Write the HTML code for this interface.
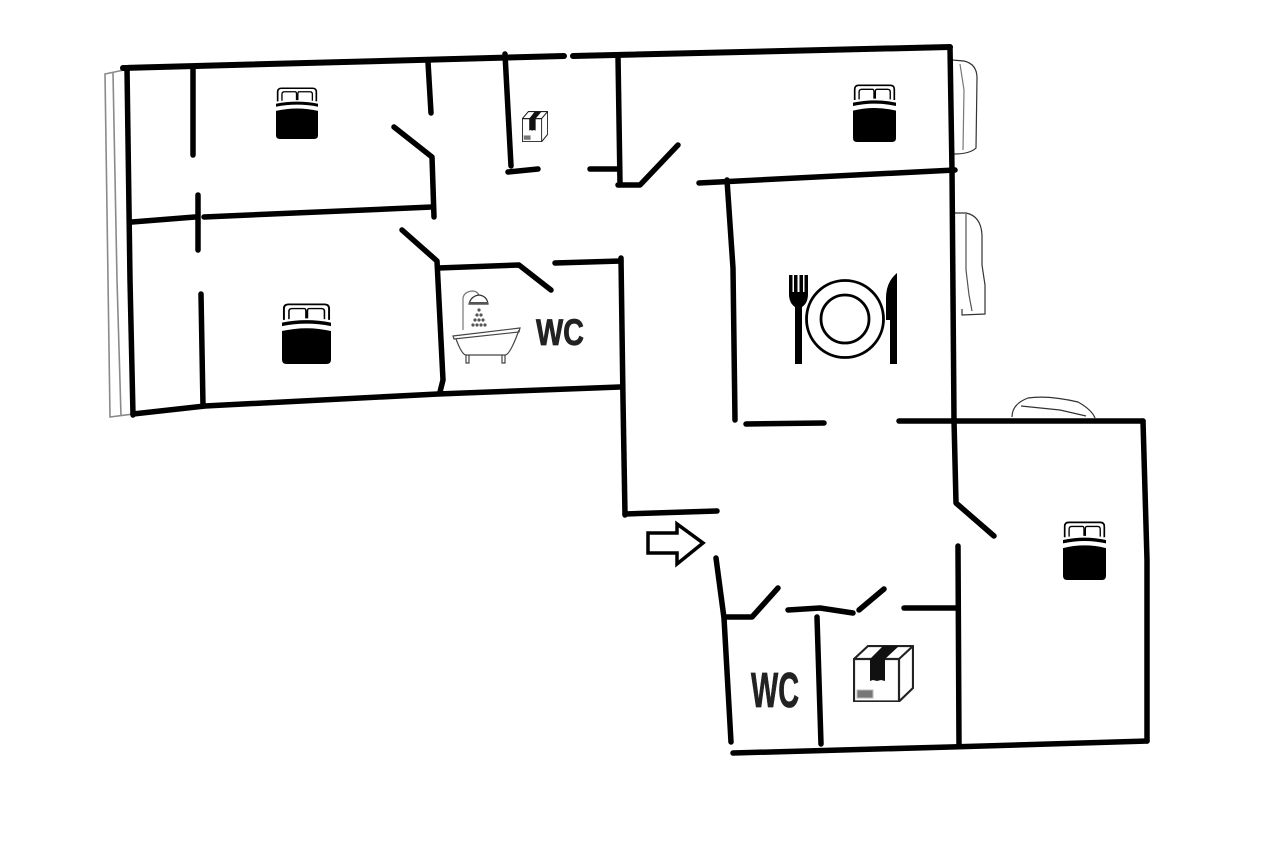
<!DOCTYPE html>
<html>
<head>
<meta charset="utf-8">
<style>
html,body{margin:0;padding:0;background:#fff;}
svg{display:block;}
</style>
</head>
<body>
<svg width="1280" height="857" viewBox="0 0 1280 857" xmlns="http://www.w3.org/2000/svg">
<defs>
<symbol id="bed" viewBox="0 0 127 174" preserveAspectRatio="none">
  <path d="M5 48V16Q5 4 17 4H110Q122 4 122 16V48" fill="none" stroke="#000" stroke-width="5"/>
  <path d="M18 46V24Q18 16 26 16H58Q62 16 62 24V44M66 44V24Q66 16 70 16H102Q110 16 110 24V46" fill="none" stroke="#000" stroke-width="4"/>
  <path d="M0 56Q64 42 127 56V66Q64 52 0 66Z" fill="#000"/>
  <path d="M0 80Q64 64 127 80V162Q127 174 115 174H12Q0 174 0 162Z" fill="#000"/>
</symbol>
<symbol id="box" viewBox="0 0 61 57" preserveAspectRatio="none">
  <path d="M1 14H46V56.500H1Z M46 14L60 1V43L46 56.500 M1 14L15 1H60" fill="#fff" stroke="#222" stroke-width="2.200" stroke-linejoin="round"/>
  <path d="M17 14L30 1H46L32 14V36L28 35L24 36L20 35L17 36Z" fill="#111"/>
  <rect x="4" y="45" width="16" height="8" fill="#777" stroke="#bbb"/>
</symbol>
</defs>

<!-- balconies -->
<g fill="none" stroke="#8a8a8a" stroke-width="1.600">
  <path d="M124 70L105 74L110 417L133 414"/>
  <path d="M113 73L117 280L121 416"/>
</g>
<g fill="none" stroke="#333" stroke-width="1.200">
  <path d="M952 60L964 61Q977 64 977 78L976 148Q970 154 954 154"/>
  <path d="M960 64L964 90L963 150" stroke="#777"/>
  <path d="M955 213H966Q981 216 982 235V265L985 285V314L962 315V309"/>
  <path d="M966 214V270L969 295L972 311" stroke="#555"/>
  <path d="M1012 417Q1012 404 1028 398Q1048 395 1078 402Q1092 410 1095 418"/>
  <path d="M1021 406L1060 410L1086 416"/>
</g>

<!-- walls -->
<g fill="none" stroke="#000" stroke-width="5.500" stroke-linecap="round" stroke-linejoin="round">
  <path d="M123 68L564 56M573 56L950 47" stroke-width="6"/>
  <path d="M127 68L130 280L133 415"/>
  <path d="M133 414L205 406L438 394L620 387"/>
  <path d="M193 68V155"/>
  <path d="M198 195V222L198 250"/>
  <path d="M201 294L203 406"/>
  <path d="M132 222L195 217M204 217L432 207"/>
  <path d="M428 62L431 113"/>
  <path d="M394 127L432 157L434 217"/>
  <path d="M402 230L437 261L443 380L440 392"/>
  <path d="M438 268L519 265L551 290"/>
  <path d="M555 263L621 261"/>
  <path d="M621 258L623 400L625 515"/>
  <path d="M625 514L717 511"/>
  <path d="M505 54L508 110L511 166"/>
  <path d="M508 172L538 169"/>
  <path d="M590 169L618 169"/>
  <path d="M618 56L620 183"/>
  <path d="M618 185L640 185L678 145"/>
  <path d="M699 183L955 170"/>
  <path d="M950 47L952 170L954 420L956 503L994 536"/>
  <path d="M727 180L733 268L735 420"/>
  <path d="M746 424L824 423"/>
  <path d="M899 421H1143"/>
  <path d="M1143 421L1147 560V741"/>
  <path d="M733 753L950 747L1147 741"/>
  <path d="M958 546L959 745"/>
  <path d="M716 558L724 618L731 742"/>
  <path d="M725 617H752L778 588"/>
  <path d="M788 610L820 608L853 613"/>
  <path d="M859 610L884 589"/>
  <path d="M904 608L958 608"/>
  <path d="M817 617L821 744"/>
</g>

<!-- entry arrow -->
<path d="M648 533H677V524L703 543L677 564V553H648Z" fill="#fff" stroke="#000" stroke-width="3.500" stroke-linejoin="miter"/>

<!-- beds -->
<use href="#bed" x="276" y="87" width="42" height="52"/>
<use href="#bed" x="853" y="84" width="43" height="58"/>
<use href="#bed" x="282" y="303" width="49" height="61"/>
<use href="#bed" x="1063" y="521" width="43" height="59"/>

<!-- boxes -->
<use href="#box" x="853" y="645" width="61" height="57"/>
<use href="#box" x="522" y="111" width="26" height="31"/>

<!-- bath and shower -->
<g fill="none" stroke="#444" stroke-width="1.200">
  <path d="M463 330V298Q464 292 472 291Q478 291 479 296" stroke="#777"/>
  <path d="M469 304Q471 296 479 295Q487 296 488 304Z" fill="#fff" stroke="#333"/>
  <path d="M453 336L520 328L519 332L454 339Z" fill="#fff"/>
  <path d="M456 339Q462 355 466 355H505Q510 355 519 330"/>
  <path d="M466 355V363H469V355M502 355V363H505V355"/>
</g>
<path d="M469 302H488V304H469Z" fill="#555"/>
<g fill="#555">
  <circle cx="479" cy="310" r="1.600"/>
  <circle cx="477" cy="315" r="1.600"/><circle cx="481" cy="315" r="1.600"/>
  <circle cx="475" cy="320" r="1.600"/><circle cx="479" cy="320" r="1.600"/><circle cx="483" cy="320" r="1.600"/>
  <circle cx="473" cy="325" r="1.600"/><circle cx="477" cy="325" r="1.600"/><circle cx="481" cy="325" r="1.600"/><circle cx="485" cy="325" r="1.600"/>
</g>

<!-- plate setting -->
<g fill="none" stroke="#000" stroke-width="2.800">
  <circle cx="845" cy="319" r="38.500"/>
  <circle cx="845" cy="319" r="24"/>
</g>
<path d="M789 275H792.500V292H794V275H797.500V292H799.500V275H803V292H804.500V275H808V294Q808 303 802 307V364H795V307Q789 303 789 294Z" fill="#000"/>
<path d="M897 273V364H890V320H886V298Q886 282 897 273Z" fill="#000"/>

<!-- labels -->
<text x="536" y="345" font-family="'Liberation Sans',sans-serif" font-weight="700" font-size="37" fill="#222" stroke="#222" stroke-width="0.800" textLength="48" lengthAdjust="spacingAndGlyphs">WC</text>
<text x="751" y="707" font-family="'Liberation Sans',sans-serif" font-weight="700" font-size="49" fill="#222" stroke="#222" stroke-width="0.800" textLength="48" lengthAdjust="spacingAndGlyphs">WC</text>
</svg>
</body>
</html>
